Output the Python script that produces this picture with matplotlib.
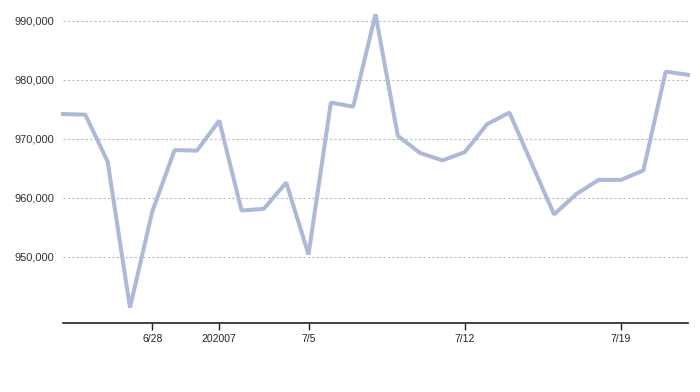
import matplotlib
matplotlib.use("Agg")
import matplotlib.pyplot as plt
from matplotlib.ticker import FuncFormatter

dates = ["6/24", "6/25", "6/26", "6/27", "6/28", "6/29", "6/30", "7/1", "7/2", "7/3",
         "7/4", "7/5", "7/6", "7/7", "7/8", "7/9", "7/10", "7/11", "7/12", "7/13",
         "7/14", "7/15", "7/16", "7/17", "7/18", "7/19", "7/20", "7/21", "7/22"]
values = [974200, 974100, 966150, 941400, 957700, 968100, 968000, 973100, 957850, 958150,
          962600, 950400, 976150, 975450, 991100, 970500, 967600, 966350, 967750, 972500,
          974450, 965800, 957200, 960650, 963050, 963050, 964650, 981400, 980850]
tick_positions = [4, 7, 11, 18, 25]
tick_labels = ["6/28", "202007", "7/5", "7/12", "7/19"]
ytick_values = [950000, 960000, 970000, 980000, 990000]

plt.rcParams['font.family'] = ['Liberation Sans', 'DejaVu Sans']

fig = plt.figure(figsize=(7, 3.92), dpi=100)
ax = fig.add_axes([63/700, 1 - 323/392, 625/700, 314/392])

x = list(range(len(values)))
ax.plot(x, values, color="#adb9d7", lw=2.9, solid_joinstyle="bevel", zorder=3, clip_on=False)

ax.set_xlim(0, len(values) - 1)
ax.set_ylim(938800, 992000)
ax.set_yticks(ytick_values)
ax.yaxis.set_major_formatter(FuncFormatter(lambda v, p: f"{int(v):,}"))
ax.set_xticks(tick_positions)
ax.set_xticklabels(tick_labels, fontsize=7.5, family=['Liberation Sans Narrow', 'Liberation Sans'])
ax.tick_params(axis='y', length=0, pad=6, labelsize=8, labelcolor="#333333")
ax.tick_params(axis='x', length=5, width=1, pad=3, color="#222222", labelcolor="#222222")
ax.grid(axis='y', color="#bbbbbb", linestyle=(0, (2, 2)), linewidth=0.8)
ax.set_axisbelow(True)
for s in ["top", "right", "left"]:
    ax.spines[s].set_visible(False)
ax.spines["bottom"].set_color("#222222")
ax.spines["bottom"].set_linewidth(1.2)

fig.savefig("out.png", dpi=100)
